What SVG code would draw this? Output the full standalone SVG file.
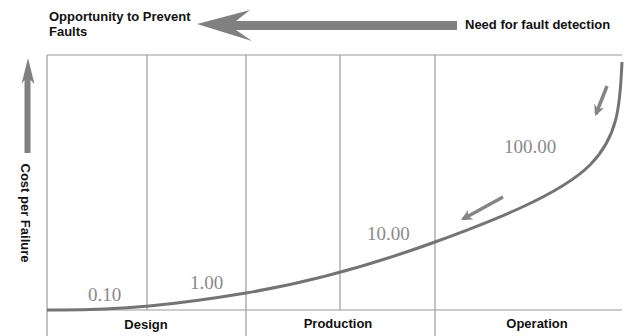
<svg xmlns="http://www.w3.org/2000/svg" width="626" height="336" viewBox="0 0 626 336">
  <style>
    .grid { stroke: #9a9a9a; stroke-width: 1.2; fill: none; }
    .lbl { font-family: "Liberation Sans", Arial, sans-serif; font-weight: bold; font-size: 13px; fill: #111; }
    .num { font-family: "Liberation Serif", serif; font-size: 19px; fill: #8a8a8a; }
    .big { fill: #808080; }
    .curve { stroke: #747474; stroke-width: 3; fill: none; }
    .small { stroke: #858585; stroke-width: 3.5; fill: none; }
  </style>
  <defs>
    <marker id="head" viewBox="0 0 10 10" refX="8" refY="5" markerWidth="11" markerHeight="11" markerUnits="userSpaceOnUse" orient="auto">
      <path d="M0,0 L10,5 L0,10 L3,5 Z" fill="#858585"/>
    </marker>
  </defs>

  <g id="grid">
    <line class="grid" x1="47" y1="55" x2="622" y2="55"/>
    <line class="grid" x1="47" y1="310" x2="622" y2="310"/>
    <line class="grid" x1="47" y1="55" x2="47" y2="336"/>
    <line class="grid" x1="147" y1="55" x2="147" y2="310"/>
    <line class="grid" x1="246" y1="55" x2="246" y2="336"/>
    <line class="grid" x1="340" y1="55" x2="340" y2="310"/>
    <line class="grid" x1="435" y1="55" x2="435" y2="336"/>
  </g>

  <g id="opportunity">
    <text class="lbl" x="49" y="21">Opportunity to Prevent</text>
    <text class="lbl" x="49" y="36">Faults</text>
  </g>
  <g id="need">
    <text class="lbl" x="465" y="29">Need for fault detection</text>
  </g>
  <g id="cost">
    <text class="lbl" transform="translate(21,213) rotate(90)" text-anchor="middle">Cost per Failure</text>
  </g>

  <g id="design">
    <text class="lbl" x="146" y="329" text-anchor="middle">Design</text>
  </g>
  <g id="production">
    <text class="lbl" x="338" y="328" text-anchor="middle">Production</text>
  </g>
  <g id="operation">
    <text class="lbl" x="537" y="328" text-anchor="middle">Operation</text>
  </g>

  <g id="values">
    <text class="num" x="88" y="301">0.10</text>
    <text class="num" x="190" y="289">1.00</text>
    <text class="num" x="367" y="240">10.00</text>
    <text class="num" x="504" y="153">100.00</text>
  </g>

  <g id="connectors">
    <polygon class="big" points="197,24 250,10 236,21 457,21 457,30 236,30 252,41"/>
    <polygon class="big" points="28,58 34.5,84 30.5,80 30.5,153 24.5,153 24.5,80 21.5,84"/>
    <path class="curve" d="M47,310 C120,311 180,304 246,293 S380,262 435,242 S560,195 590,165 S620,100 622,62"/>
    <line class="small" x1="607" y1="86" x2="596" y2="114" marker-end="url(#head)"/>
    <line class="small" x1="503" y1="197" x2="463" y2="219" marker-end="url(#head)"/>
  </g>
</svg>
